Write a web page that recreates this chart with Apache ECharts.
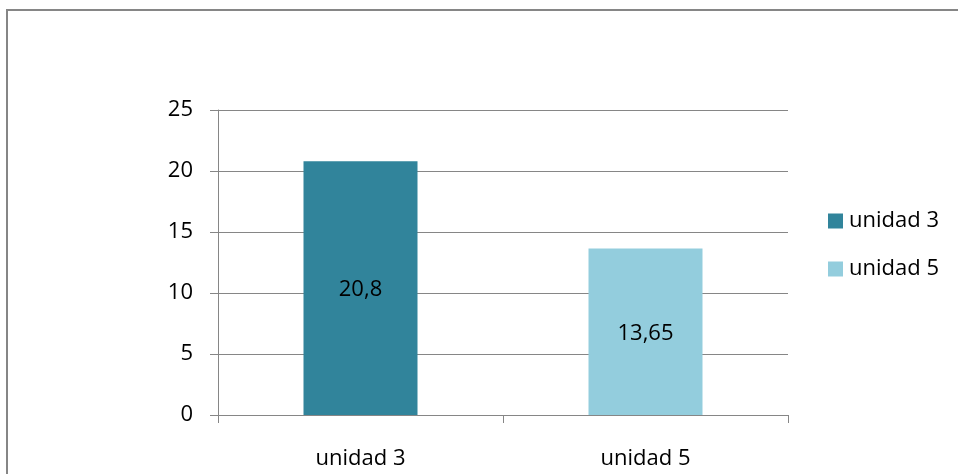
<!DOCTYPE html>
<html>
<head>
<meta charset="utf-8">
<script src="https://cdn.jsdelivr.net/npm/echarts@6/dist/echarts.min.js"></script>
<style>
  html, body { margin: 0; padding: 0; background: #ffffff; }
  #chart { width: 958px; height: 474px; }
</style>
</head>
<body>
<div id="chart"></div>
<script>
// Category names, series names and values
const categories = ['unidad 3', 'unidad 5'];
const seriesNames = ['unidad 3', 'unidad 5'];
const unidad3Values = [20.8, '-'];
const unidad5Values = ['-', 13.65];
const yTicks = { min: 0, max: 25, interval: 5 };

const colors = ['#31849B', '#93CDDD'];
const FONT = 'Open Sans';
const FS = 22;

const chart = echarts.init(document.getElementById('chart'));

function barLabel() {
  return {
    show: true,
    position: 'inside',
    offset: [0, 2],
    color: '#000000',
    fontFamily: FONT,
    fontSize: FS,
    formatter: p => String(p.value).replace('.', ',')
  };
}

chart.setOption({
  animation: false,
  backgroundColor: '#ffffff',
  textStyle: { fontFamily: FONT },
  graphic: [{
    type: 'rect',
    shape: { x: 7, y: 10, width: 1000, height: 520 },
    style: { fill: 'none', stroke: '#868686', lineWidth: 2 },
    silent: true,
    z: 100
  }],
  grid: { left: 218, right: 170, top: 110, bottom: 59, containLabel: false },
  legend: {
    orient: 'vertical',
    left: 828,
    top: 210,
    padding: 0,
    itemWidth: 15,
    itemHeight: 15,
    itemGap: 26,
    icon: 'rect',
    data: seriesNames,
    textStyle: { fontFamily: FONT, fontSize: FS, color: '#000000', padding: [0, 0, 0, 1] }
  },
  xAxis: {
    type: 'category',
    data: categories,
    axisLine: { show: true, lineStyle: { color: '#868686', width: 1 } },
    axisTick: { show: true, length: 8, lineStyle: { color: '#868686' } },
    axisLabel: { color: '#000000', fontFamily: FONT, fontSize: FS, margin: 33 }
  },
  yAxis: {
    type: 'value',
    min: yTicks.min,
    max: yTicks.max,
    interval: yTicks.interval,
    axisLine: { show: true, lineStyle: { color: '#868686', width: 1 } },
    axisTick: { show: true, length: 8, lineStyle: { color: '#868686' } },
    splitLine: { show: true, lineStyle: { color: '#868686', width: 1 } },
    axisLabel: { color: '#000000', fontFamily: FONT, fontSize: FS, margin: 25 }
  },
  series: [
    {
      name: seriesNames[0],
      type: 'bar',
      data: unidad3Values,
      barWidth: '40%',
      barGap: '-100%',
      itemStyle: { color: colors[0] },
      label: barLabel()
    },
    {
      name: seriesNames[1],
      type: 'bar',
      data: unidad5Values,
      barWidth: '40%',
      barGap: '-100%',
      itemStyle: { color: colors[1] },
      label: barLabel()
    }
  ]
});
</script>
</body>
</html>
